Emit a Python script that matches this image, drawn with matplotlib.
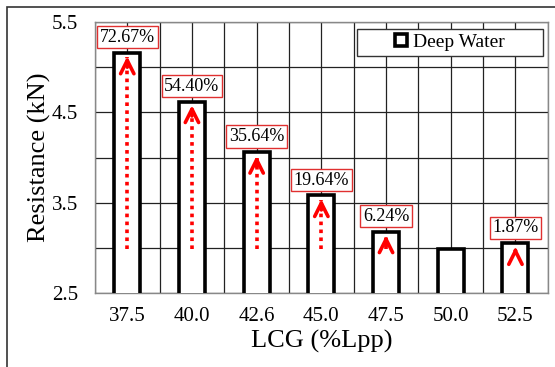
import matplotlib.pyplot as plt
import matplotlib.patches as mpatches
from matplotlib.ticker import MultipleLocator
import numpy as np

#
# Data
#
lcg_labels = ['37.5', '40.0', '42.6', '45.0', '47.5', '50.0', '52.5']
resistance = [5.16, 4.62, 4.06, 3.58, 3.18, 2.99, 3.05]
increase_labels = ['72.67%', '54.40%', '35.64%', '19.64%', '6.24%', '', '1.87%']
base_resistance = 2.99

plt.rcParams['font.family'] = ['Liberation Serif', 'DejaVu Serif']

fig = plt.figure(figsize=(5.55, 3.67), dpi=100)
ax = fig.add_axes([0.171, 0.2016, 0.816, 0.7384])

# Frame around the whole figure (left and top edges visible)
fig.patches.append(mpatches.Rectangle((7 / 555, -0.1), 1.2, 1 - 7 / 367 + 0.1,
                                      transform=fig.transFigure, fill=False,
                                      edgecolor='#333333', linewidth=1.2))

x = np.arange(len(lcg_labels))

# Grid
ax.set_axisbelow(True)
ax.yaxis.set_major_locator(MultipleLocator(1.0))
ax.yaxis.set_minor_locator(MultipleLocator(0.5))
ax.xaxis.set_minor_locator(MultipleLocator(0.5))
ax.grid(True, which='both', color='#222222', linewidth=0.9)
ax.tick_params(which='both', length=0)

# Bars
ax.bar(x, resistance, bottom=0, width=0.4, facecolor='white', edgecolor='black',
       linewidth=2.6, zorder=3)

# Arrows and percentage boxes
for i, val in enumerate(resistance):
    if increase_labels[i] == '':
        continue
    head_len = min(0.12, val - base_resistance)
    if val - base_resistance > head_len:
        ax.plot([x[i], x[i]], [base_resistance, val - 0.05], color='red',
                linestyle=(0, (1, 1.2)), linewidth=2.6, zorder=4, solid_capstyle='butt')
    ax.annotate('', xy=(x[i], val - 0.04), xytext=(x[i], val - 0.04 - head_len),
                arrowprops=dict(arrowstyle='->', color='red', lw=2.6,
                                mutation_scale=24, shrinkA=0, shrinkB=0),
                zorder=5)
    ax.annotate(increase_labels[i], xy=(x[i], val), xytext=(0, 5),
                textcoords='offset points', ha='center', va='bottom',
                fontsize=13,
                bbox=dict(boxstyle='square,pad=0.15', facecolor='white',
                          edgecolor='#e03030', linewidth=1.0),
                zorder=6)

ax.set_xlim(-0.5, len(lcg_labels) - 0.5)
ax.set_ylim(2.5, 5.5)
ax.set_xticks(x)
ax.set_xticklabels(lcg_labels, fontsize=15)
ax.set_yticks([2.5, 3.5, 4.5, 5.5])
ax.set_yticklabels(['2.5', '3.5', '4.5', '5.5'], fontsize=15)
ax.tick_params(axis='x', pad=10)
ax.tick_params(axis='y', pad=12)

for sp in ax.spines.values():
    sp.set_color('#888888')
    sp.set_linewidth(1.0)

ax.set_xlabel('LCG (%Lpp)', fontsize=19, labelpad=3)
ax.set_ylabel('Resistance (kN)', fontsize=19, labelpad=1)

# Legend box (wide frame with centred entry)
ax.add_patch(mpatches.Rectangle((0.578, 0.875), 0.411, 0.099, transform=ax.transAxes,
                                facecolor='white', edgecolor='#333333', linewidth=1.0,
                                zorder=7))
handle = mpatches.Patch(facecolor='white', edgecolor='black', linewidth=2.6,
                        label='Deep Water')
leg = ax.legend(handles=[handle], loc='center',
                bbox_to_anchor=(0.578 + 0.411 / 2, 0.875 + 0.099 / 2),
                fontsize=14, frameon=False, handlelength=0.6,
                handleheight=0.6, handletextpad=0.3, borderpad=0.0,
                borderaxespad=0)
leg.set_zorder(8)

fig.savefig('out.png', dpi=100)
